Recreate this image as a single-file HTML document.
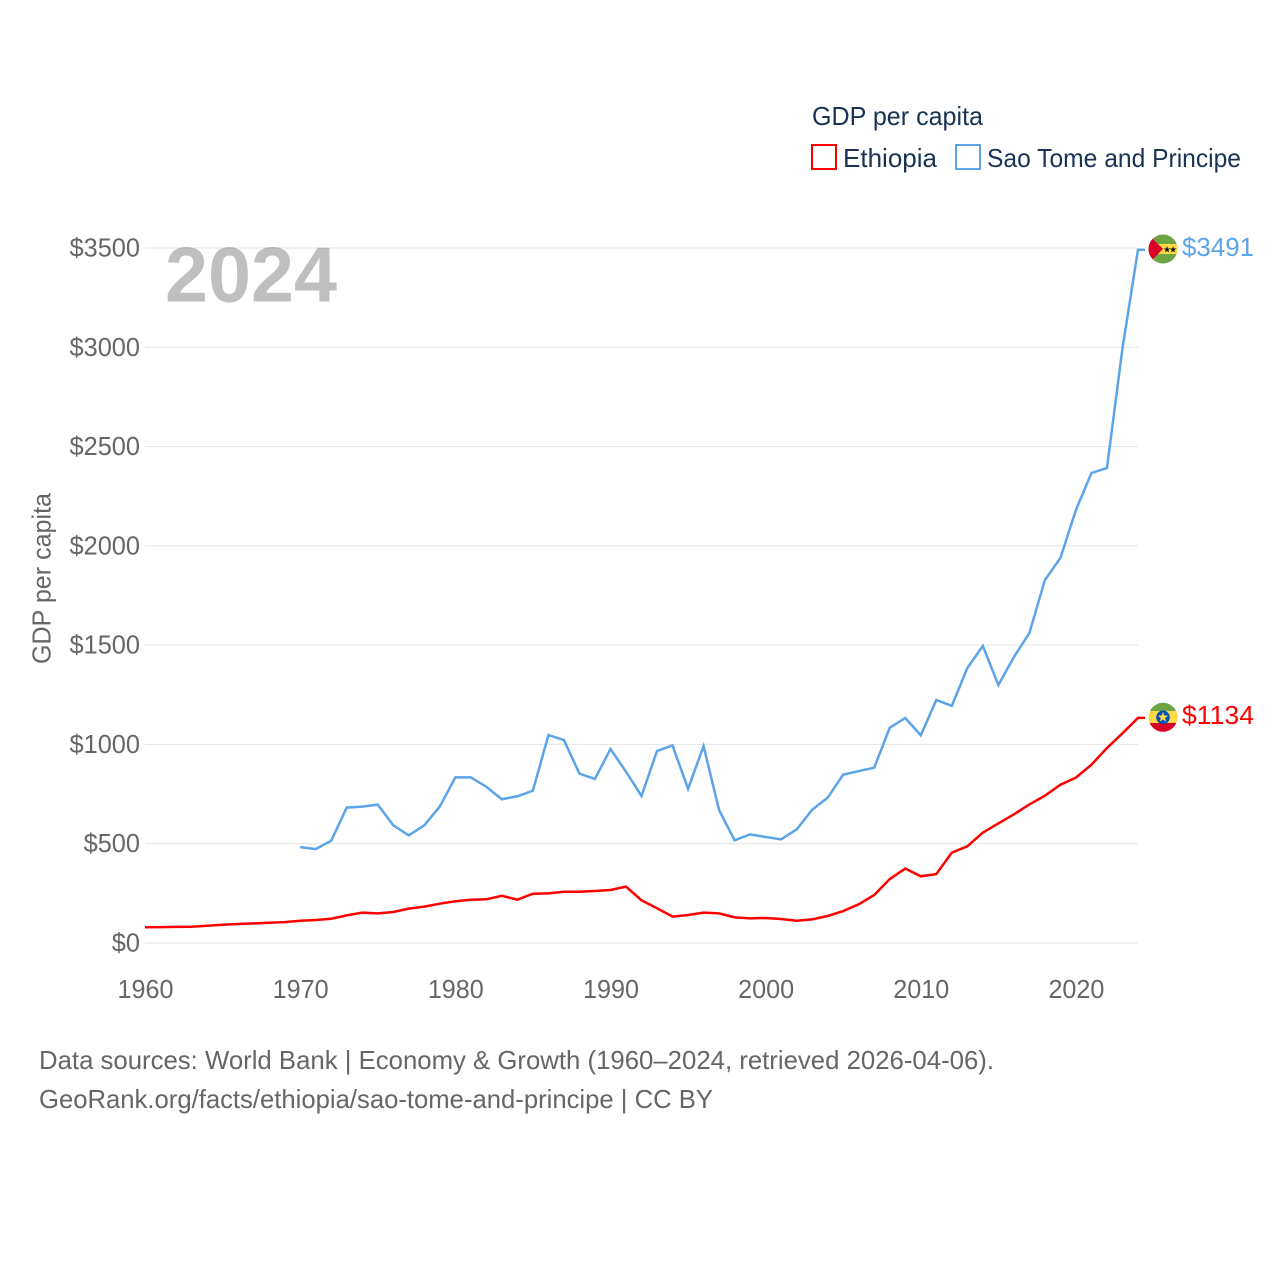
<!DOCTYPE html>
<html>
<head>
<meta charset="utf-8">
<title>GDP per capita: Ethiopia and Sao Tome and Principe</title>
<style>
html,body{margin:0;padding:0;background:#fff;width:1280px;height:1280px;overflow:hidden}
svg{display:block}
text{font-family:"Liberation Sans",sans-serif}
</style>
</head>
<body>
<svg id="chart" width="1280" height="1280" viewBox="0 0 1280 1280" xmlns="http://www.w3.org/2000/svg">
  <defs>
    <clipPath id="clip-stp"><circle cx="1163" cy="249" r="14.500"/></clipPath>
    <clipPath id="clip-eth"><circle cx="1163" cy="717.300" r="14.500"/></clipPath>
  </defs>
  <g id="grid"></g>
  <g id="yticks"></g>
  <g id="xticks"></g>
  <text x="165" y="301.500" font-size="78" font-weight="bold" fill="#000000" fill-opacity="0.25" textLength="172" lengthAdjust="spacingAndGlyphs">2024</text>
  <text transform="translate(50.500,664) rotate(-90)" font-size="26" fill="#666666" textLength="171" lengthAdjust="spacingAndGlyphs">GDP per capita</text>
  <g id="series"></g>

  <g clip-path="url(#clip-stp)">
    <rect x="1148" y="234" width="30" height="30" fill="#6DA544"/>
    <rect x="1148" y="244" width="30" height="10" fill="#FFDA44"/>
    <polygon points="1148,234 1163,249 1148,264" fill="#D80027"/>
    <text x="1167" y="252.500" font-size="9" text-anchor="middle" fill="#111">★</text>
    <text x="1173" y="252.500" font-size="9" text-anchor="middle" fill="#111">★</text>
  </g>
  <g clip-path="url(#clip-eth)">
    <rect x="1148" y="702" width="30" height="9" fill="#6DA544"/>
    <rect x="1148" y="711" width="30" height="12" fill="#FFDA44"/>
    <rect x="1148" y="723" width="30" height="10" fill="#D80027"/>
    <circle cx="1163" cy="717.300" r="6.800" fill="#0052B4"/>
    <polygon points="1163,711.800 1164.300,715.500 1168.200,715.600 1165.100,718 1166.200,721.700 1163,719.500 1159.800,721.700 1160.900,718 1157.800,715.600 1161.700,715.500" fill="#FFDA44"/>
  </g>
  <text id="label-stp" x="1182" y="256" font-size="26" fill="#5ba4ea" textLength="72" lengthAdjust="spacingAndGlyphs"></text>
  <text id="label-eth" x="1182" y="724" font-size="26" fill="#ff0000" textLength="72" lengthAdjust="spacingAndGlyphs"></text>

  <g>
    <text x="812" y="125" font-size="26" fill="#1a3355" textLength="171" lengthAdjust="spacingAndGlyphs">GDP per capita</text>
    <rect x="812" y="145" width="24" height="24" fill="#fff" stroke="#ff0000" stroke-width="2"/>
    <text x="843" y="167" font-size="26" fill="#1a3355" textLength="94" lengthAdjust="spacingAndGlyphs">Ethiopia</text>
    <rect x="956" y="145" width="24" height="24" fill="#fff" stroke="#5ba4ea" stroke-width="2"/>
    <text x="987" y="167" font-size="26" fill="#1a3355" textLength="254" lengthAdjust="spacingAndGlyphs">Sao Tome and Principe</text>
  </g>

  <text x="39" y="1069" font-size="26" fill="#666666" textLength="955" lengthAdjust="spacingAndGlyphs">Data sources: World Bank | Economy &amp; Growth (1960–2024, retrieved 2026-04-06).</text>
  <text x="39" y="1108" font-size="26" fill="#666666" textLength="674" lengthAdjust="spacingAndGlyphs">GeoRank.org/facts/ethiopia/sao-tome-and-principe | CC BY</text>
</svg>
<script>
var yTickValues = [0, 500, 1000, 1500, 2000, 2500, 3000, 3500];
var xTickYears = [1960, 1970, 1980, 1990, 2000, 2010, 2020];
var ethiopiaStartYear = 1960;
var ethiopiaValues = [79,80,81,82,87,92,96,99,102,105,112,116,122,139,153,149,156,173,183,198,210,218,220,238,218,248,250,258,258,262,267,284,215,175,133,141,153,149,129,124,126,121,112,119,136,161,195,242,322,375,336,347,455,487,556,602,648,698,742,797,833,898,982,1056,1134];
var saoTomeStartYear = 1970;
var saoTomeValues = [483,473,515,682,687,697,593,542,593,687,834,834,787,724,739,767,1047,1022,853,826,977,863,740,967,995,776,992,670,517,547,534,522,572,671,732,848,866,883,1084,1133,1046,1224,1194,1385,1496,1299,1440,1561,1828,1939,2181,2367,2392,2996,3491];

var NS = 'http://www.w3.org/2000/svg';
function xScale(year) { return 145 + (year - 1960) * (1138 - 145) / 64; }
function yScale(value) { return 943 - value * (943 - 248) / 3500; }

var gridGroup = document.getElementById('grid');
var yTickGroup = document.getElementById('yticks');
var xTickGroup = document.getElementById('xticks');
var seriesGroup = document.getElementById('series');

yTickValues.forEach(function (v) {
  var line = document.createElementNS(NS, 'line');
  
  
  line.setAttribute('x1', 145);
  line.setAttribute('x2', 1138);
  line.setAttribute('y1', yScale(v));
  line.setAttribute('y2', yScale(v));
  line.setAttribute('stroke', '#e4e4e4');
  line.setAttribute('stroke-width', 1);
  gridGroup.appendChild(line);

  var label = document.createElementNS(NS, 'text');
  var labelText = '$' + v;
  
  
  label.setAttribute('x', 140);
  label.setAttribute('y', yScale(v) + 8.5);
  label.setAttribute('text-anchor', 'end');
  label.setAttribute('font-size', 26);
  label.setAttribute('fill', '#666666');
  label.setAttribute('textLength', labelText.length * 14.1);
  label.setAttribute('lengthAdjust', 'spacingAndGlyphs');
  label.textContent = labelText;
  yTickGroup.appendChild(label);
});

xTickYears.forEach(function (year) {
  var label = document.createElementNS(NS, 'text');
  
  
  label.setAttribute('x', xScale(year) + 0.5);
  label.setAttribute('y', 998);
  label.setAttribute('text-anchor', 'middle');
  label.setAttribute('font-size', 26);
  label.setAttribute('fill', '#666666');
  label.setAttribute('textLength', 56);
  label.setAttribute('lengthAdjust', 'spacingAndGlyphs');
  label.textContent = String(year);
  xTickGroup.appendChild(label);
});

function linePoints(startYear, values) {
  var pts = values.map(function (v, i) {
    return xScale(startYear + i).toFixed(2) + ',' + yScale(v).toFixed(2);
  });
  var last = values[values.length - 1];
  pts.push('1145,' + yScale(last).toFixed(2));
  return pts.join(' ');
}

var saoLine = document.createElementNS(NS, 'polyline');


saoLine.setAttribute('points', linePoints(saoTomeStartYear, saoTomeValues));
saoLine.setAttribute('fill', 'none');
saoLine.setAttribute('stroke', '#5ba4ea');
saoLine.setAttribute('stroke-width', 2.5);
seriesGroup.appendChild(saoLine);

var ethLine = document.createElementNS(NS, 'polyline');


ethLine.setAttribute('points', linePoints(ethiopiaStartYear, ethiopiaValues));
ethLine.setAttribute('fill', 'none');
ethLine.setAttribute('stroke', '#ff0000');
ethLine.setAttribute('stroke-width', 2.5);
seriesGroup.appendChild(ethLine);

document.getElementById('label-stp').textContent = '$' + saoTomeValues[saoTomeValues.length - 1];
document.getElementById('label-eth').textContent = '$' + ethiopiaValues[ethiopiaValues.length - 1];
</script>
</body>
</html>
